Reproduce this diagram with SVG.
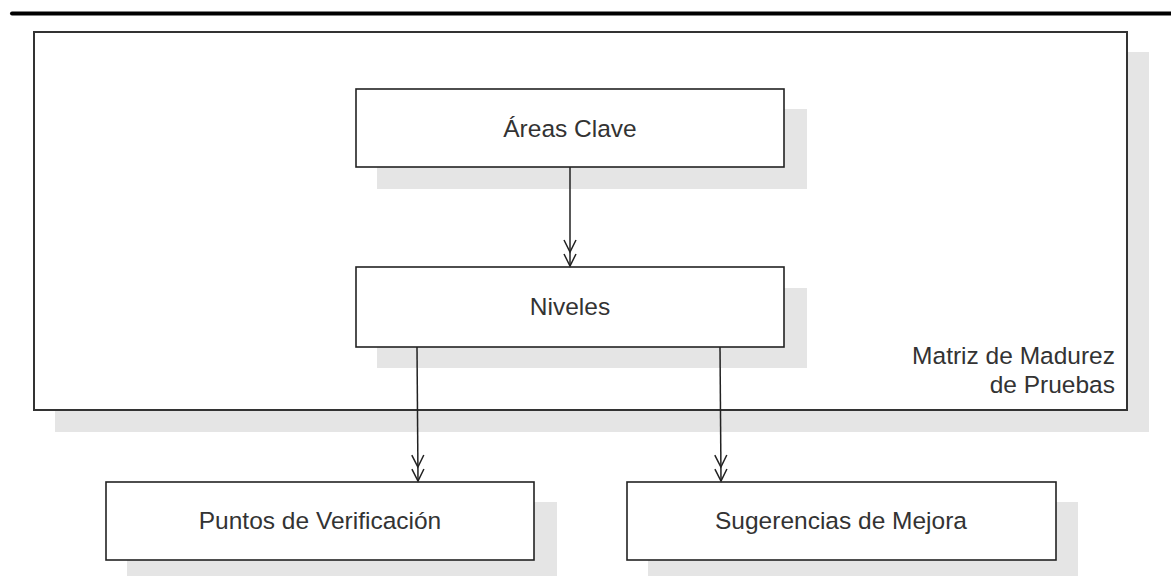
<svg xmlns="http://www.w3.org/2000/svg" width="1171" height="576" viewBox="0 0 1171 576">
<defs>
<style>
.shadow{fill:#e5e5e5;stroke:none}
.box{fill:#fff;stroke:#222;stroke-width:1.6}
.frame{fill:#fff;stroke:#333;stroke-width:2}
.lbl{font-family:"Liberation Sans",Arial,sans-serif;font-size:24.5px;fill:#333}
.conn{fill:none;stroke:#222;stroke-width:1.5}
</style>
<marker id="dbl" markerUnits="userSpaceOnUse" markerWidth="32" markerHeight="20" viewBox="-30 -10 32 20" refX="0" refY="0" orient="auto">
<path d="M-12,-6 L0,0 L-12,6 M-26,-6 L-14,0 L-26,6" fill="none" stroke="#222" stroke-width="1.5"/>
</marker>
</defs>
<rect width="1171" height="576" fill="#fff"/>
<line x1="12" y1="13.5" x2="1171" y2="13.5" stroke="#000" stroke-width="4" stroke-linecap="round"/>
<g id="matriz">
<rect class="shadow" x="55" y="52" width="1094" height="380"/>
<rect class="frame" x="34" y="32" width="1093" height="378"/>
<text class="lbl" x="1115" y="364" text-anchor="end">Matriz de Madurez</text>
<text class="lbl" x="1115" y="393" text-anchor="end">de Pruebas</text>
</g>
<g id="areas">
<rect class="shadow" x="377" y="109" width="430" height="80"/>
<rect class="box" x="356" y="89" width="428" height="78"/>
<text class="lbl" x="570" y="137" text-anchor="middle">Áreas Clave</text>
</g>
<g id="niveles">
<rect class="shadow" x="377" y="288" width="430" height="80"/>
<rect class="box" x="356" y="267" width="428" height="80"/>
<text class="lbl" x="570" y="315" text-anchor="middle">Niveles</text>
</g>
<g id="puntos">
<rect class="shadow" x="127" y="502" width="430" height="80"/>
<rect class="box" x="106" y="482" width="428" height="78"/>
<text class="lbl" x="320" y="529" text-anchor="middle">Puntos de Verificación</text>
</g>
<g id="sugerencias">
<rect class="shadow" x="648" y="502" width="430" height="80"/>
<rect class="box" x="627" y="482" width="429" height="78"/>
<text class="lbl" x="841" y="529" text-anchor="middle">Sugerencias de Mejora</text>
</g>
<g id="connectors">
<path class="conn" d="M570,167 L570,266" marker-end="url(#dbl)"/>
<path class="conn" d="M417,347 L418,481" marker-end="url(#dbl)"/>
<path class="conn" d="M720,347 L721,481" marker-end="url(#dbl)"/>
</g>
</svg>
